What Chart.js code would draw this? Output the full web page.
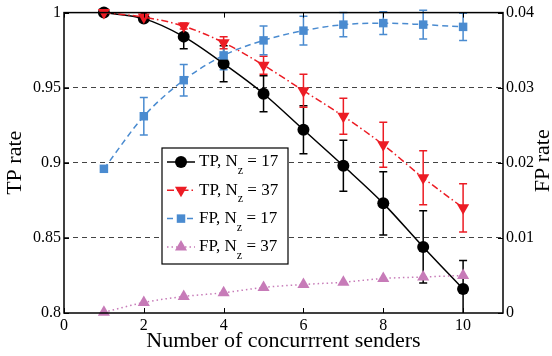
<!DOCTYPE html>
<html>
<head>
<meta charset="utf-8">
<script src="https://cdn.jsdelivr.net/npm/chart.js@4.4.1/dist/chart.umd.min.js"></script>
<style>
  html, body { margin: 0; padding: 0; background: #fff; }
  #wrap { width: 552px; height: 356px; }
</style>
</head>
<body>
<div id="wrap"><canvas id="myChart"></canvas></div>
<script>
// number of concurrent senders
const senders = [1, 2, 3, 4, 5, 6, 7, 8, 9, 10];

// TP rate (left axis)
const tp17 = [1.000, 0.996, 0.984, 0.966, 0.946, 0.922, 0.898, 0.873, 0.844, 0.816];
const tp17Err = [0, 0.002, 0.008, 0.012, 0.012, 0.016, 0.017, 0.021, 0.024, 0.019];
const tp37 = [1.000, 0.997, 0.991, 0.980, 0.965, 0.948, 0.931, 0.912, 0.890, 0.870];
const tp37Err = [0, 0.001, 0.002, 0.004, 0.006, 0.011, 0.012, 0.015, 0.018, 0.016];

// FP rate (right axis)
const fp17 = [0.0192, 0.0262, 0.0310, 0.0343, 0.0363, 0.0376, 0.0384, 0.0386, 0.0384, 0.0381];
const fp17Err = [0, 0.0025, 0.0021, 0.0019, 0.0019, 0.0019, 0.0016, 0.0015, 0.0019, 0.0018];
const fp37 = [0.0001, 0.0014, 0.0022, 0.0027, 0.0034, 0.0038, 0.0041, 0.0046, 0.0048, 0.0050];

const xTicks = [0, 2, 4, 6, 8, 10];
const leftTicks = [0.8, 0.85, 0.9, 0.95, 1];
const rightTicks = [0, 0.01, 0.02, 0.03, 0.04];

const serif = "'Liberation Serif', 'Times New Roman', serif";
const RED = '#ec1c24';
const BLUE = '#4a8bd0';
const PURPLE = '#c77bb8';

function pts(ys) {
  return senders.map((x, i) => ({ x: x, y: ys[i] }));
}

const series = [
  { label: 'TP', nz: '17', data: tp17, err: tp17Err, axis: 'y', color: '#000', dash: [], style: 'circle', radius: 6, rot: 0, order: 4 },
  { label: 'TP', nz: '37', data: tp37, err: tp37Err, axis: 'y', color: RED, dash: [7, 3, 1.5, 3], style: 'triangle', radius: 7, rot: 180, order: 3 },
  { label: 'FP', nz: '17', data: fp17, err: fp17Err, axis: 'y1', color: BLUE, dash: [6, 4], style: 'rect', radius: 6, rot: 0, order: 2 },
  { label: 'FP', nz: '37', data: fp37, err: null, axis: 'y1', color: PURPLE, dash: [1.5, 3], style: 'triangle', radius: 7, rot: 0, order: 1 },
];

// error bars + box + inner ticks + legend + right title
const extras = {
  id: 'extras',
  beforeDatasetsDraw(chart) {
    const ctx = chart.ctx;
    const xs = chart.scales.x;
    ctx.save();
    series.forEach(s => {
      if (!s.err) return;
      const ys = chart.scales[s.axis];
      ctx.strokeStyle = s.color;
      ctx.lineWidth = 1.5;
      ctx.setLineDash([]);
      s.data.forEach((v, i) => {
        const e = s.err[i];
        if (!e) return;
        const px = xs.getPixelForValue(senders[i]);
        const top = ys.getPixelForValue(v + e);
        const bot = Math.min(ys.getPixelForValue(v - e), chart.chartArea.bottom);
        ctx.beginPath();
        ctx.moveTo(px, top); ctx.lineTo(px, bot);
        ctx.moveTo(px - 4, top); ctx.lineTo(px + 4, top);
        if (bot < chart.chartArea.bottom) { ctx.moveTo(px - 4, bot); ctx.lineTo(px + 4, bot); }
        ctx.stroke();
      });
    });
    ctx.restore();
  },
  afterDraw(chart) {
    const ctx = chart.ctx;
    const a = chart.chartArea;
    ctx.save();
    // inner ticks
    ctx.strokeStyle = '#000';
    ctx.lineWidth = 1;
    ctx.beginPath();
    xTicks.forEach(t => {
      const px = Math.round(chart.scales.x.getPixelForValue(t)) + 0.5;
      ctx.moveTo(px, a.bottom); ctx.lineTo(px, a.bottom - 5);
      ctx.moveTo(px, a.top); ctx.lineTo(px, a.top + 5);
    });
    leftTicks.forEach(t => {
      const py = Math.round(chart.scales.y.getPixelForValue(t)) + 0.5;
      ctx.moveTo(a.left, py); ctx.lineTo(a.left + 5, py);
      ctx.moveTo(a.right, py); ctx.lineTo(a.right - 5, py);
    });
    ctx.stroke();
    // box
    ctx.lineWidth = 1.5;
    ctx.strokeRect(a.left, a.top, a.right - a.left, a.bottom - a.top);

    // right axis title, reads bottom to top like the left one
    ctx.save();
    ctx.translate(543, (a.top + a.bottom) / 2 - 2);
    ctx.rotate(-Math.PI / 2);
    ctx.fillStyle = '#000';
    ctx.font = '22px ' + serif;
    ctx.textAlign = 'center';
    ctx.textBaseline = 'middle';
    ctx.fillText('FP rate', 0, 0);
    ctx.restore();

    // legend
    const lx = 162, ly = 148, lw = 126, lh = 116;
    ctx.fillStyle = '#fff';
    ctx.fillRect(lx, ly, lw, lh);
    ctx.lineWidth = 1.2;
    ctx.strokeRect(lx, ly, lw, lh);
    series.forEach((s, i) => {
      const cy = ly + 14 + i * 28.3;
      ctx.strokeStyle = s.color;
      ctx.lineWidth = 1.5;
      ctx.setLineDash(s.dash);
      ctx.beginPath();
      ctx.moveTo(lx + 5, cy); ctx.lineTo(lx + 33, cy);
      ctx.stroke();
      ctx.setLineDash([]);
      ctx.fillStyle = s.color;
      Chart.helpers.drawPoint(ctx, {
        pointStyle: s.style, radius: s.radius, rotation: s.rot, borderWidth: 0
      }, lx + 19, cy);
      ctx.fillStyle = '#000';
      ctx.textBaseline = 'middle';
      ctx.textAlign = 'left';
      let tx = lx + 37;
      ctx.font = '17px ' + serif;
      const first = s.label + ', N';
      ctx.fillText(first, tx, cy);
      tx += ctx.measureText(first).width;
      ctx.font = '12px ' + serif;
      ctx.fillText('z', tx, cy + 9);
      tx += ctx.measureText('z').width;
      ctx.font = '17px ' + serif;
      ctx.fillText(' = ' + s.nz, tx, cy);
    });
    ctx.restore();
  }
};

const config = {
  type: 'line',
  data: {
    datasets: series.map(s => ({
      label: s.label + ', Nz = ' + s.nz,
      data: pts(s.data),
      yAxisID: s.axis,
      borderColor: s.color,
      backgroundColor: s.color,
      borderWidth: 1.5,
      borderDash: s.dash,
      pointStyle: s.style,
      pointRadius: s.radius,
      pointRotation: s.rot,
      pointBorderWidth: 0,
      cubicInterpolationMode: 'monotone',
      order: s.order,
      clip: false
    }))
  },
  options: {
    responsive: true,
    maintainAspectRatio: false,
    animation: false,
    layout: { padding: { top: 11 } },
    plugins: {
      legend: { display: false },
      tooltip: { enabled: false }
    },
    scales: {
      x: {
        type: 'linear',
        min: 0,
        max: 11,
        afterBuildTicks: sc => { sc.ticks = xTicks.map(v => ({ value: v })); },
        afterFit: sc => { sc.height = 43; },
        grid: { display: false, drawTicks: false },
        border: { display: false },
        ticks: { color: '#000', font: { family: serif, size: 16 }, padding: 3, maxRotation: 0 },
        title: { display: true, text: 'Number of concurrrent senders', color: '#000', font: { family: serif, size: 22 }, padding: { top: 0, bottom: 2 } }
      },
      y: {
        position: 'left',
        min: 0.8,
        max: 1,
        afterBuildTicks: sc => { sc.ticks = leftTicks.map(v => ({ value: v })); },
        afterFit: sc => { sc.width = 64; },
        grid: {
          drawTicks: false,
          color: ctx => (ctx.tick && (ctx.tick.value === 0.8 || ctx.tick.value === 1)) ? 'rgba(0,0,0,0)' : '#444',
          lineWidth: 1
        },
        border: { display: false, dash: [5, 4] },
        ticks: { color: '#000', font: { family: serif, size: 16 }, padding: 3, callback: v => String(v) },
        title: { display: true, text: 'TP rate', color: '#000', font: { family: serif, size: 22 }, padding: { top: 2, bottom: 0 } }
      },
      y1: {
        position: 'right',
        min: 0,
        max: 0.04,
        afterBuildTicks: sc => { sc.ticks = rightTicks.map(v => ({ value: v })); },
        afterFit: sc => { sc.width = 49; },
        grid: { display: false, drawTicks: false },
        border: { display: false },
        ticks: { color: '#000', font: { family: serif, size: 16 }, padding: 3, callback: v => String(v) },
        title: { display: false }
      }
    }
  },
  plugins: [extras]
};

new Chart(document.getElementById('myChart'), config);
</script>
</body>
</html>
